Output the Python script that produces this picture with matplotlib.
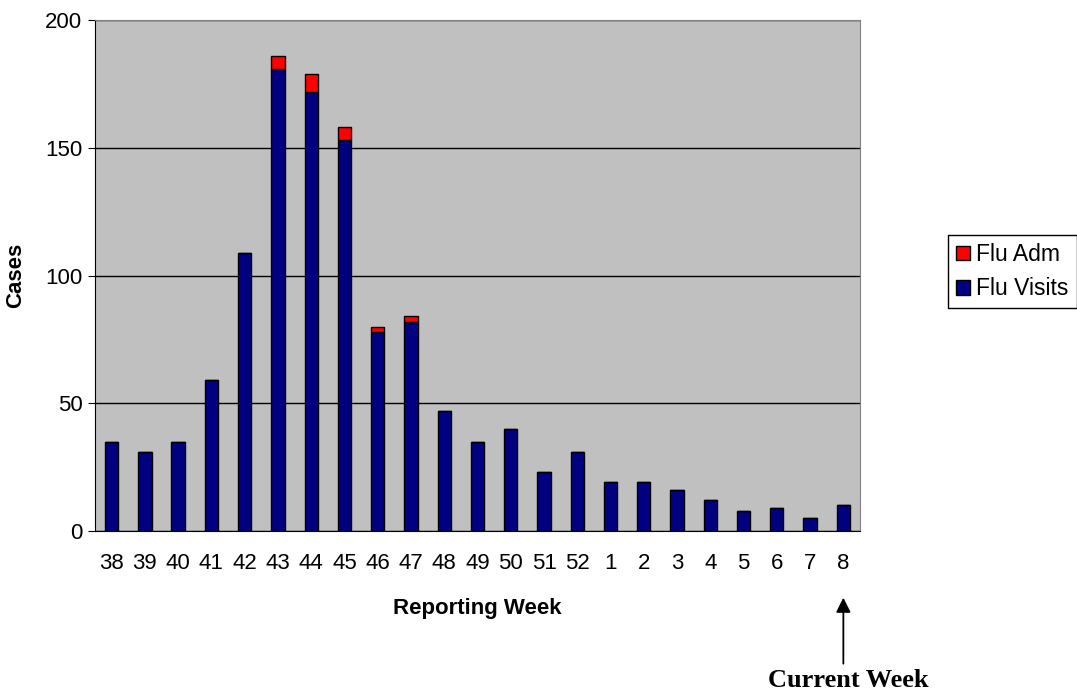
import matplotlib.pyplot as plt
import numpy as np

# reporting weeks and case counts
weeks = ['38', '39', '40', '41', '42', '43', '44', '45', '46', '47', '48', '49', '50',
         '51', '52', '1', '2', '3', '4', '5', '6', '7', '8']
flu_visits = [35, 31, 35, 59, 109, 181, 172, 153, 78, 82, 47, 35, 40,
              23, 31, 19, 19, 16, 12, 8, 9, 5, 10]
flu_adm = [0, 0, 0, 0, 0, 5, 7, 5, 2, 2, 0, 0, 0,
           0, 0, 0, 0, 0, 0, 0, 0, 0, 0]

plt.rcParams['font.family'] = ['Liberation Sans', 'DejaVu Sans']

fig = plt.figure(figsize=(10.77, 6.91), dpi=100)
ax = fig.add_axes([0.0882, 0.2315, 0.7103, 0.7395])
ax.set_facecolor('#C0C0C0')

x = np.arange(len(weeks))
ax.bar(x, flu_visits, width=0.4, color='#000080', edgecolor='black', linewidth=1,
       label='Flu Visits', zorder=3)
ax.bar(x, flu_adm, width=0.4, bottom=flu_visits, color='#FF0000', edgecolor='black',
       linewidth=1, label='Flu Adm', zorder=3)

ax.set_xlim(-0.5, len(weeks) - 0.5)
ax.set_ylim(0, 200)
ax.set_yticks([0, 50, 100, 150, 200])
ax.set_xticks(x)
ax.set_xticklabels(weeks)
ax.tick_params(axis='x', length=0, labelsize=16, pad=16)
ax.tick_params(axis='y', length=5, labelsize=16, direction='out', pad=4)
ax.yaxis.grid(True, color='black', linewidth=1, zorder=1)

for side in ['top', 'right']:
    ax.spines[side].set_color('#808080')
for side in ['left', 'bottom']:
    ax.spines[side].set_color('black')

ax.set_ylabel('Cases', fontsize=16, weight='bold', labelpad=14)
ax.set_xlabel('Reporting Week', fontsize=16, weight='bold', labelpad=17)

# arrow pointing at the current week
ax.annotate('', xy=(22, -0.125), xycoords=('data', 'axes fraction'),
            xytext=(22, -0.265), textcoords=('data', 'axes fraction'),
            arrowprops=dict(arrowstyle='-|>', color='black', lw=1.3, mutation_scale=22))
ax.text(22.15, -0.292, 'Current Week', transform=ax.get_xaxis_transform(),
        ha='center', va='center', fontsize=19, weight='bold', family='Liberation Serif')

handles, labels = ax.get_legend_handles_labels()
fig.legend(handles[::-1], labels[::-1], loc='upper left', bbox_to_anchor=(0.880, 0.66),
           fontsize=16.5, frameon=True, fancybox=False, edgecolor='black', framealpha=1,
           handlelength=0.6, handleheight=0.6, handletextpad=0.3, borderpad=0.35,
           labelspacing=0.5, borderaxespad=0)

fig.savefig('out.png', dpi=100)
